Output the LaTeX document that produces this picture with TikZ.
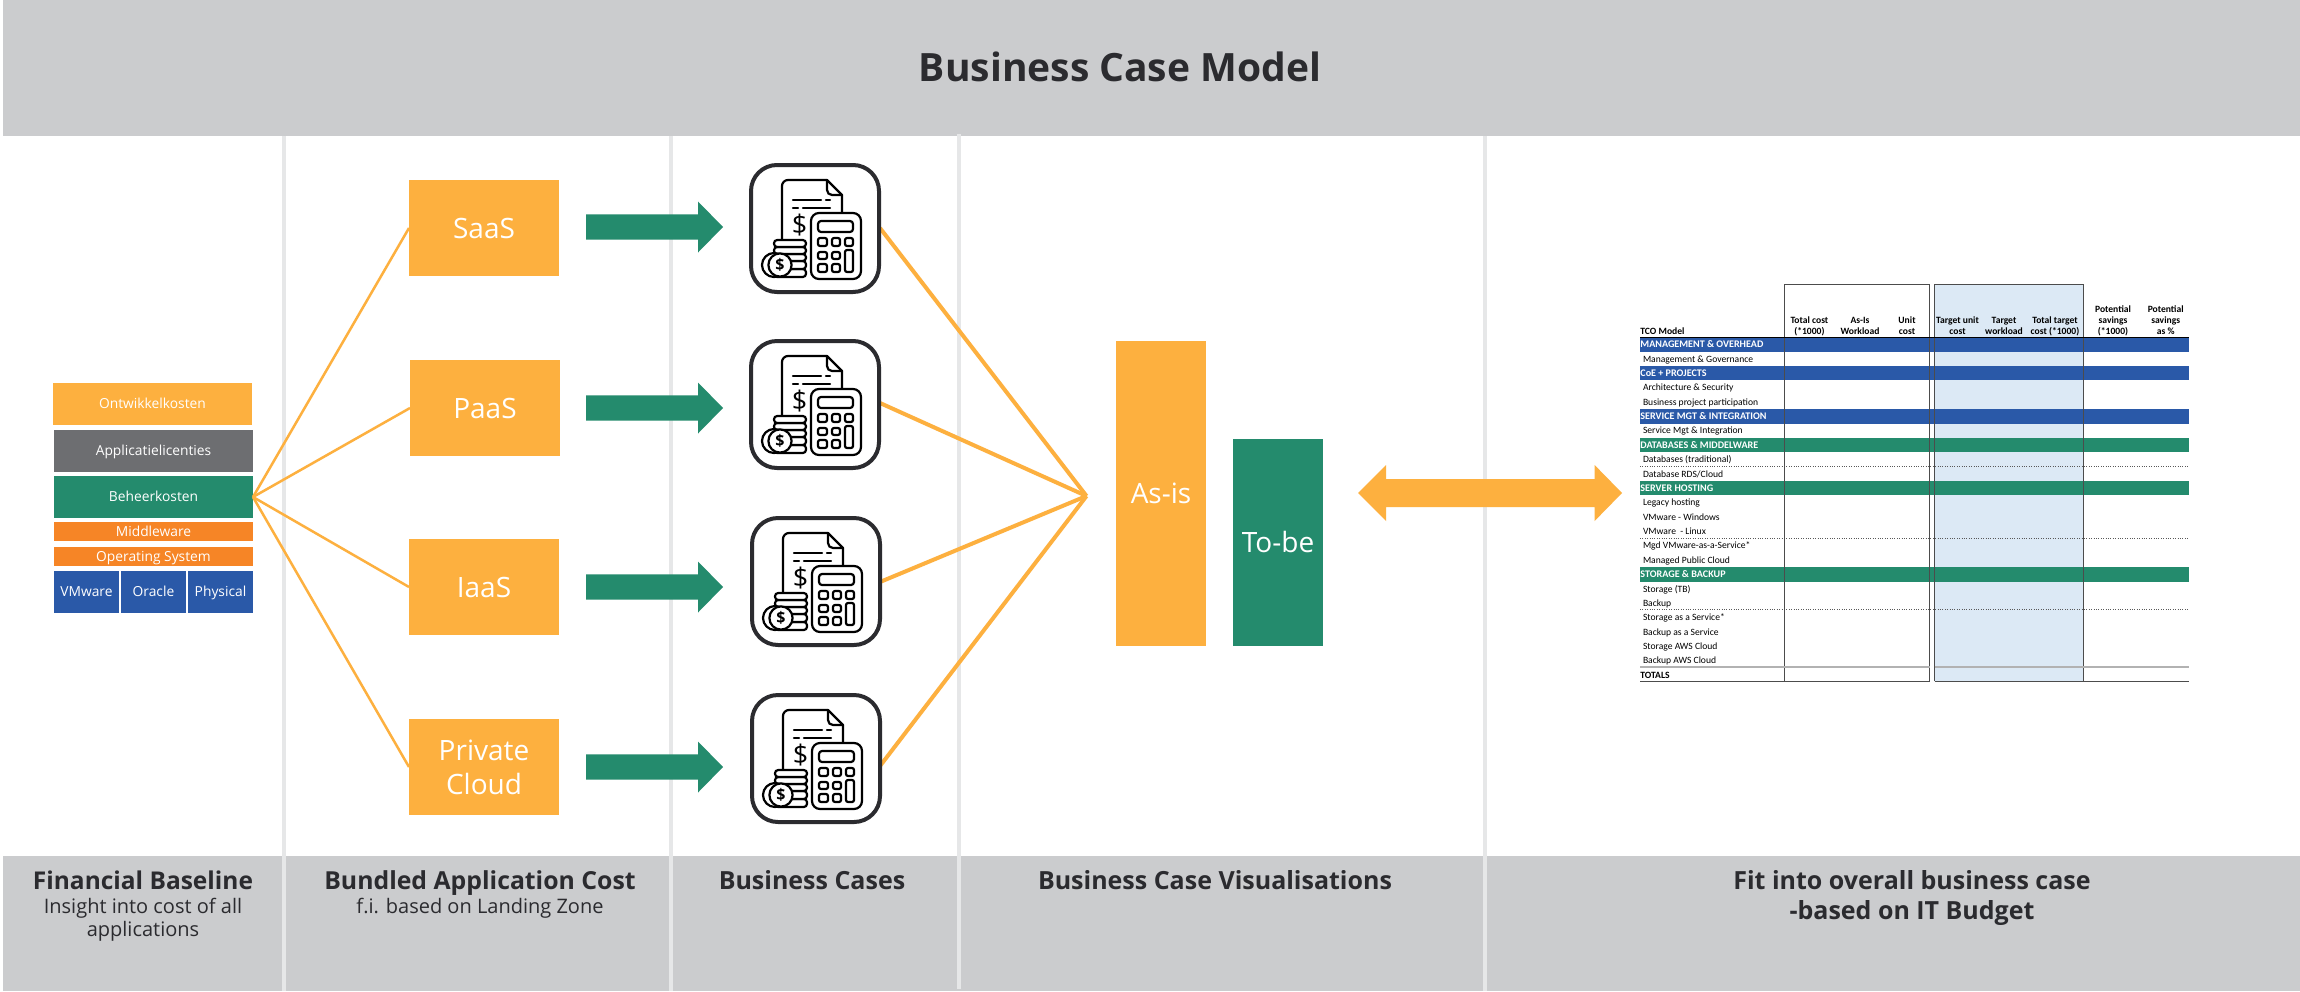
\documentclass[tikz,border=0pt]{standalone}
\usepackage{fontspec}
\setmainfont{Open Sans}
\newfontfamily\tblfont{Carlito}
\definecolor{band}{HTML}{CBCCCE}
\definecolor{sep}{HTML}{E6E7E8}
\definecolor{amber}{HTML}{FDB03F}
\definecolor{teal}{HTML}{248B6D}
\definecolor{royal}{HTML}{2A59A8}
\definecolor{tang}{HTML}{F68526}
\definecolor{slate}{HTML}{6D6E71}
\definecolor{ink}{HTML}{2B2B2F}
\definecolor{pale}{HTML}{DCE9F5}
\newcommand\fs[1]{\pgfmathsetmacro\tmpfs{#1*0.5}\fontsize{\tmpfs pt}{\tmpfs pt}\selectfont}
\tikzset{
  x=0.5pt,y=-0.5pt,
  flat/.style={draw=none,inner sep=0pt,outer sep=0pt,text=white,align=center},
  seprule/.style={sep,line width=2pt},
  fan/.style={amber,line width=1.25pt},
  fanb/.style={amber,line width=2pt},
  icl/.style={black,line width=1.1pt,line join=round,line cap=round},
  iwf/.style={icl,fill=white},
  iconbox/.style={draw=ink,line width=2pt,rounded corners=13pt,fill=white,inner sep=0pt,outer sep=0pt,minimum width=64pt,minimum height=63.5pt},
  head/.style={anchor=base,text=ink,font=\bfseries,inner sep=0pt},
  subh/.style={anchor=base,text=ink,inner sep=0pt},
  rowt/.style={anchor=base west,inner sep=0pt,font=\tblfont\fs{9.6},text=black},
  rowh/.style={anchor=base west,inner sep=0pt,font=\tblfont\bfseries\fs{10.1},text=white},
  colh/.style={anchor=base,inner sep=0pt,font=\tblfont\bfseries\fs{9.6},text=black},
}
% name, x1, y1, x2, y2, fill, font px, text
\newcommand\flatbox[8]{%
  \pgfmathsetmacro\bw{(#4-#2)*0.5}\pgfmathsetmacro\bh{(#5-#3)*0.5}%
  \pgfmathsetmacro\bx{(#2+#4)/2}\pgfmathsetmacro\by{(#3+#5)/2}%
  \pgfmathsetmacro\capht{#7*0.5*0.72}%
  \node[flat,fill=#6,minimum width=\bw pt,minimum height=\bh pt,text height=\capht pt,text depth=0pt,font=\fs{#7}] (#1) at (\bx,\by) {#8};}
% name, left, top
\newcommand\calcicon[3]{%
  \node[iconbox] (#1) at (#2+66,#3+65.5) {};
  \begin{scope}[shift={(#2,#3)}]
    \draw[icl] (33,76) -- (33,23) to[out=90,in=180] (39,17) -- (78,17) -- (93,32) -- (93,50);
    \draw[icl] (78,17) -- (78,27) to[out=-90,in=180] (83,32) -- (93,32);
    \draw[icl] (44,37) -- (72,37) (77,37) -- (81,37) (44,45) -- (49,45) (54,45) -- (81,45);
    \node[inner sep=0pt,font=\fs{27},text=black] (#1d) at (50.5,62) {\$};
    \draw[iwf,rounded corners=4pt] (62,50) rectangle (112,116);
    \draw[icl,rounded corners=1.5pt] (69,58) rectangle (104,69);
    \foreach \bxa/\bya/\bxb/\byb in {69/75/78/83,83/75/91/83,96/75/104/83,69/89/78/96,83/89/91/96,69/101/78/109,83/101/91/109,96/87/104/109}
      \draw[icl,rounded corners=1pt] (\bxa,\bya) rectangle (\bxb,\byb);
    \foreach \dya/\dyb in {106/114,98/106,91/98,84/91,77/84}
      \draw[iwf,rounded corners=1.6pt] (25,\dya) rectangle (57,\dyb);
    \draw[iwf] (25,102) circle (6pt);
    \draw[iwf] (31,102) circle (5.8pt);
    \node[inner sep=0pt,font=\bfseries\fs{16},text=black] (#1c) at (31,102) {\$};
  \end{scope}}
\newcommand\greenarrow[3]{%
  \fill[teal] (#1,#3-12.7) -- (#2-25,#3-12.7) -- (#2-25,#3-25.5) -- (#2,#3) -- (#2-25,#3+25.5) -- (#2-25,#3+12.7) -- (#1,#3+12.7) -- cycle;}
\begin{document}
\begin{tikzpicture}
\useasboundingbox (0,0) rectangle (2300,991);
\fill[white] (0,0) rectangle (2300,991);
% bands
\fill[band] (3,0) rectangle (2300,136);
\fill[band] (3,856) rectangle (2300,991);
% separators
\draw[seprule] (284,136) -- (284,991);
\draw[seprule] (671,136) -- (671,991);
\draw[seprule] (959,134) -- (959,989);
\draw[seprule] (1485,136) -- (1485,991);
% title
\node[head,font=\bfseries\fs{39}] (title) at (1120,81.5) {Business Case Model};
% baseline stack
\flatbox{ontw}{53}{383}{252}{425}{amber}{13.8}{Ontwikkelkosten}
\flatbox{appl}{54}{430}{253}{472}{slate}{13.8}{Applicatielicenties}
\flatbox{beh}{54}{476}{253}{518}{teal}{13.8}{Beheerkosten}
\flatbox{mid}{54}{522}{253}{541}{tang}{13.8}{Middleware}
\flatbox{os}{54}{547}{253}{566}{tang}{13.8}{Operating System}
\flatbox{vmw}{54}{571}{119}{613}{royal}{13.8}{VMware}
\flatbox{ora}{121}{571}{186}{613}{royal}{13.8}{Oracle}
\flatbox{phy}{188}{571}{253}{613}{royal}{13.8}{Physical}
% service boxes
\flatbox{saas}{409}{180}{559}{276}{amber}{28}{SaaS}
\flatbox{paas}{410}{360}{560}{456}{amber}{28}{PaaS}
\flatbox{iaas}{409}{539}{559}{635}{amber}{28}{IaaS}
\node[flat,fill=amber,minimum width=75pt,minimum height=48pt,font=\fs{28}] (priv) at (484,767) {Private\\[3pt]Cloud};
% fan-out
\draw[fan] (beh.east) -- (saas.west);
\draw[fan] (beh.east) -- (paas.west);
\draw[fan] (beh.east) -- (iaas.west);
\draw[fan] (beh.east) -- (priv.west);
% hub lines
\coordinate (hub) at (1086.5,496);
\coordinate (c1) at (880,228);
\coordinate (c2) at (880,403);
\coordinate (c3) at (880,582);
\coordinate (c4) at (880,766);
\draw[fanb] (c1) -- (hub);
\draw[fanb] (c2) -- (hub);
\draw[fanb] (c3) -- (hub);
\draw[fanb] (c4) -- (hub);
% green arrows
\greenarrow{586}{723}{227}
\greenarrow{586}{723}{408}
\greenarrow{586}{723}{587}
\greenarrow{586}{723}{767}
% icons
\calcicon{ic1}{749}{163}
\calcicon{ic2}{749}{339}
\calcicon{ic3}{750}{516}
\calcicon{ic4}{750}{693}
% visualisation
\flatbox{asis}{1116}{341}{1206}{646}{amber}{28}{As-is}
\flatbox{tobe}{1233}{439}{1323}{646}{teal}{28}{To-be}
% double arrow
\fill[amber] (1358,493) -- (1386,465) -- (1386,479) -- (1594.6,479) -- (1594.6,465) -- (1622,493) -- (1594.6,521) -- (1594.6,507) -- (1386,507) -- (1386,521) -- cycle;
% table
\fill[pale] (1934.6,284) rectangle (2083.4,681);
\def\rowy#1{337.3+14.37*#1}
\foreach \k/\c in {0/royal,2/royal,5/royal,7/teal,10/teal,16/teal}
  \fill[\c] (1640,{\rowy{\k}}) rectangle (2189,{\rowy{\k}+14.37});
\foreach \dy in {466.7,537.9,609.5}
  \draw[black!65,line width=0.25pt,dash pattern=on 0.5pt off 0.7pt] (1640,\dy) -- (2189,\dy);
\draw[black!70,line width=0.5pt] (1784.6,681) -- (1784.6,284) -- (1929.6,284) -- (1929.6,681);
\draw[black!70,line width=0.5pt] (1934.6,681) -- (1934.6,284) -- (2083.4,284) -- (2083.4,681);
\draw[black,line width=0.6pt] (1640,337.3) -- (2189,337.3);
\draw[black!30,line width=0.8pt] (1640,666.8) -- (1929.6,666.8) (1934.6,666.8) -- (2189,666.8);
\draw[black!70,line width=0.5pt] (1640,681) -- (1929.6,681) (1934.6,681) -- (2189,681);
% table headers
\node[colh,anchor=base west] (th0) at (1640,334.5) {TCO Model};
\foreach \n/\cx/\a/\b/\d in {1/1809.4//Total cost/(*1000),2/1860//As-Is/Workload,3/1907//Unit/cost,4/1957.5//Target unit/cost,5/2004//Target/workload,6/2055//Total target/cost (*1000),7/2113/Potential/savings/(*1000),8/2165.7/Potential/savings/as \%}{
  \node[colh] (tha\n) at (\cx,312.2) {\a};
  \node[colh] (thb\n) at (\cx,323.5) {\b};
  \node[colh] (thc\n) at (\cx,334.5) {\d};
}
\foreach \k/\t in {0/MANAGEMENT \& OVERHEAD,2/CoE + PROJECTS,5/SERVICE MGT \& INTEGRATION,7/DATABASES \& MIDDELWARE,10/SERVER HOSTING,16/STORAGE \& BACKUP}
  \node[rowh] (rh\k) at (1640,{\rowy{\k}+10.4}) {\t};
\foreach \k/\t in {1/Management \& Governance,3/Architecture \& Security,4/Business project participation,6/Service Mgt \& Integration,8/Databases (traditional),9/{Database RDS/Cloud},11/Legacy hosting,12/VMware - Windows,13/VMware\ \ - Linux,14/Mgd VMware-as-a-Service*,15/Managed Public Cloud,17/Storage (TB),18/Backup,19/Storage as a Service*,20/Backup as a Service,21/Storage AWS Cloud,22/Backup AWS Cloud}
  \node[rowt] (rt\k) at (1642.6,{\rowy{\k}+10.4}) {\t};
\node[rowt,font=\tblfont\bfseries\fs{9.6}] (rt23) at (1640,{\rowy{23}+10.4}) {TOTALS};
% footer labels
\node[head,font=\bfseries\fs{24.5}] (f1) at (143,889.5) {Financial Baseline};
\node[subh,font=\fs{20}] (f1a) at (143,913) {Insight into cost of all};
\node[subh,font=\fs{20}] (f1b) at (143,936) {applications};
\node[head,font=\bfseries\fs{24.8}] (f2) at (480,889.5) {Bundled Application Cost};
\node[subh,font=\fs{20}] (f2a) at (480,913) {f.i. based on Landing Zone};
\node[head,font=\bfseries\fs{25}] (f3) at (812,889.5) {Business Cases};
\node[head,font=\bfseries\fs{25}] (f4) at (1215,889.5) {Business Case Visualisations};
\node[head,font=\bfseries\fs{25}] (f5) at (1912,889.5) {Fit into overall business case};
\node[head,font=\bfseries\fs{25}] (f5b) at (1912,919) {-based on IT Budget};
\end{tikzpicture}
\end{document}
